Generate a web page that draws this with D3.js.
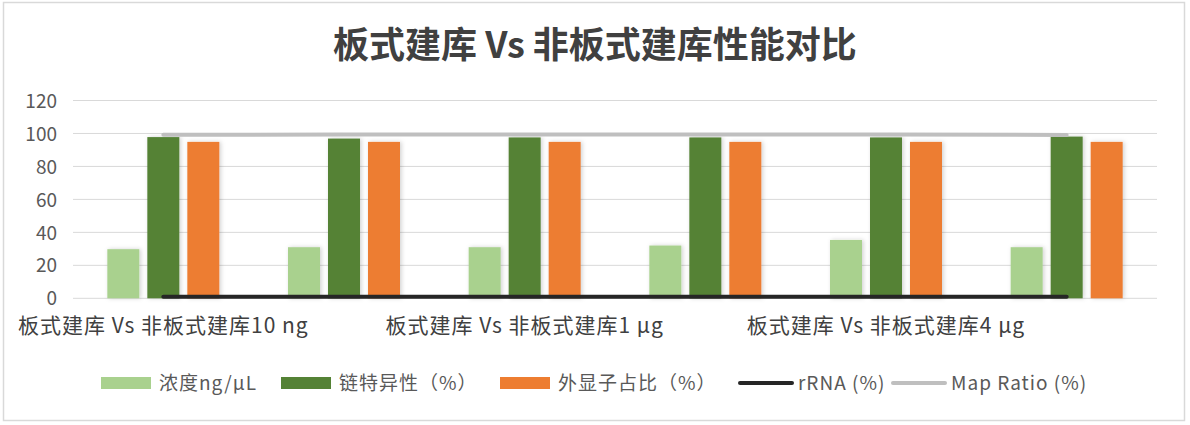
<!DOCTYPE html>
<html><head><meta charset="utf-8">
<script src="https://cdn.jsdelivr.net/npm/d3@7/dist/d3.min.js"></script>
<style>
html,body{margin:0;padding:0;background:#fff;}
svg text{font-family:"Noto Sans CJK SC","Noto Sans",sans-serif;}
</style></head>
<body><svg id="c" width="1190" height="425"></svg>
<script>
const title = "板式建库 Vs 非板式建库性能对比";
const categories = ["c1","c2","c3","c4","c5","c6"];
const xTickLabels = ["板式建库 Vs 非板式建库10 ng","","板式建库 Vs 非板式建库1 μg","","板式建库 Vs 非板式建库4 μg",""];
const barSeries = ["浓度ng/μL","链特异性（%）","外显子占比（%）"];
const concentration = [29.8, 31.0, 31.0, 32.0, 35.4, 31.0];
const strandSpecificity = [97.8, 96.9, 97.6, 97.6, 97.6, 98.1];
const exonRatio = [94.9, 94.9, 94.9, 94.9, 94.9, 94.9];
const lineSeries = ["rRNA (%)","Map Ratio (%)"];
const rRNA = [1.0, 1.0, 1.0, 1.0, 1.0, 1.0];
const mapRatio = [99.2, 99.3, 99.3, 99.3, 99.3, 99.1];
const yTicks = [0,20,40,60,80,100,120];

const barColors = ["#a9d18e","#548235","#ed7d31"];
const lineColors = ["#262626","#bfbfbf"];

const svg = d3.select("#c");
svg.append("rect").attr("x",3.5).attr("y",2.5).attr("width",1181).attr("height",418)
  .attr("fill","#fff").attr("stroke","#d9d9d9").attr("stroke-width",1.5);

const defs = svg.append("defs");
const f = defs.append("filter").attr("id","sh").attr("x","-30%").attr("y","-10%").attr("width","160%").attr("height","120%");
f.append("feDropShadow").attr("dx",1.5).attr("dy",0).attr("stdDeviation",2).attr("flood-color","#000").attr("flood-opacity",0.18);

const x = d3.scaleBand().domain(categories).range([73,1157]).paddingInner(0).paddingOuter(0);
const y = d3.scaleLinear().domain([0,120]).range([298.3,100.5]);
const bw = 32, gap = 8;
const offs = [-(bw+gap), 0, bw+gap];

// gridlines
svg.append("g").selectAll("line").data(yTicks).join("line")
  .attr("x1",73).attr("x2",1157).attr("y1",d=>y(d)).attr("y2",d=>y(d))
  .attr("stroke","#d9d9d9").attr("stroke-width",1);

// y axis labels
const yAxis = d3.axisLeft(y).tickValues(yTicks).tickSize(0).tickPadding(0);
const gy = svg.append("g").attr("transform","translate(57,0)").call(yAxis);
gy.select(".domain").remove();
gy.selectAll("text").attr("font-size",19).attr("fill","#595959").attr("dy","0.35em");

// bars
const seriesVals = [concentration, strandSpecificity, exonRatio];
seriesVals.forEach((vals,si)=>{
  svg.append("g").attr("filter","url(#sh)").selectAll("rect").data(vals.map((v,i)=>({v,c:categories[i]}))).join("rect")
    .attr("x",d=>x(d.c)+x.bandwidth()/2+offs[si]-bw/2)
    .attr("width",bw)
    .attr("y",d=>y(d.v))
    .attr("height",d=>y(0)-y(d.v))
    .attr("fill",barColors[si]);
});

// lines
const lineVals = [rRNA, mapRatio];
lineVals.forEach((vals,li)=>{
  const ln = d3.line().x((d,i)=>x(categories[i])+x.bandwidth()/2).y(d=>y(d));
  svg.append("path").datum(vals).attr("d",ln).attr("fill","none")
    .attr("stroke",lineColors[li]).attr("stroke-width",4).attr("stroke-linecap","round");
});

// x axis labels
const xAxis = d3.axisBottom(x).tickFormat((d,i)=>xTickLabels[i]).tickSize(0).tickPadding(0);
const gx = svg.append("g").attr("transform","translate(0,316)").call(xAxis);
gx.select(".domain").remove();
gx.selectAll("text").attr("font-size",21).attr("fill","#404040").attr("dy","0.8em")
  .attr("letter-spacing","1px");

// title
svg.append("text").attr("x",595).attr("y",58).attr("text-anchor","middle")
  .attr("font-size",36).attr("font-weight","bold").attr("fill","#404040").text(title);

// legend
const legendItems = [
  {name:barSeries[0], type:"bar", color:barColors[0], x:101},
  {name:barSeries[1], type:"bar", color:barColors[1], x:281},
  {name:barSeries[2], type:"bar", color:barColors[2], x:500},
  {name:lineSeries[0], type:"line", color:lineColors[0], x:740},
  {name:lineSeries[1], type:"line", color:lineColors[1], x:893}
];
const ly = 383;
const lg = svg.append("g");
legendItems.forEach(it=>{
  if(it.type==="bar"){
    lg.append("rect").attr("x",it.x).attr("y",ly-6).attr("width",50).attr("height",12).attr("fill",it.color);
  } else {
    lg.append("line").attr("x1",it.x).attr("x2",it.x+52).attr("y1",ly).attr("y2",ly)
      .attr("stroke",it.color).attr("stroke-width",4).attr("stroke-linecap","round");
  }
  lg.append("text").attr("x",it.x+58).attr("y",ly).attr("dy","0.35em")
    .attr("font-size",19).attr("letter-spacing","1px").attr("fill","#595959").text(it.name);
});
</script></body></html>
